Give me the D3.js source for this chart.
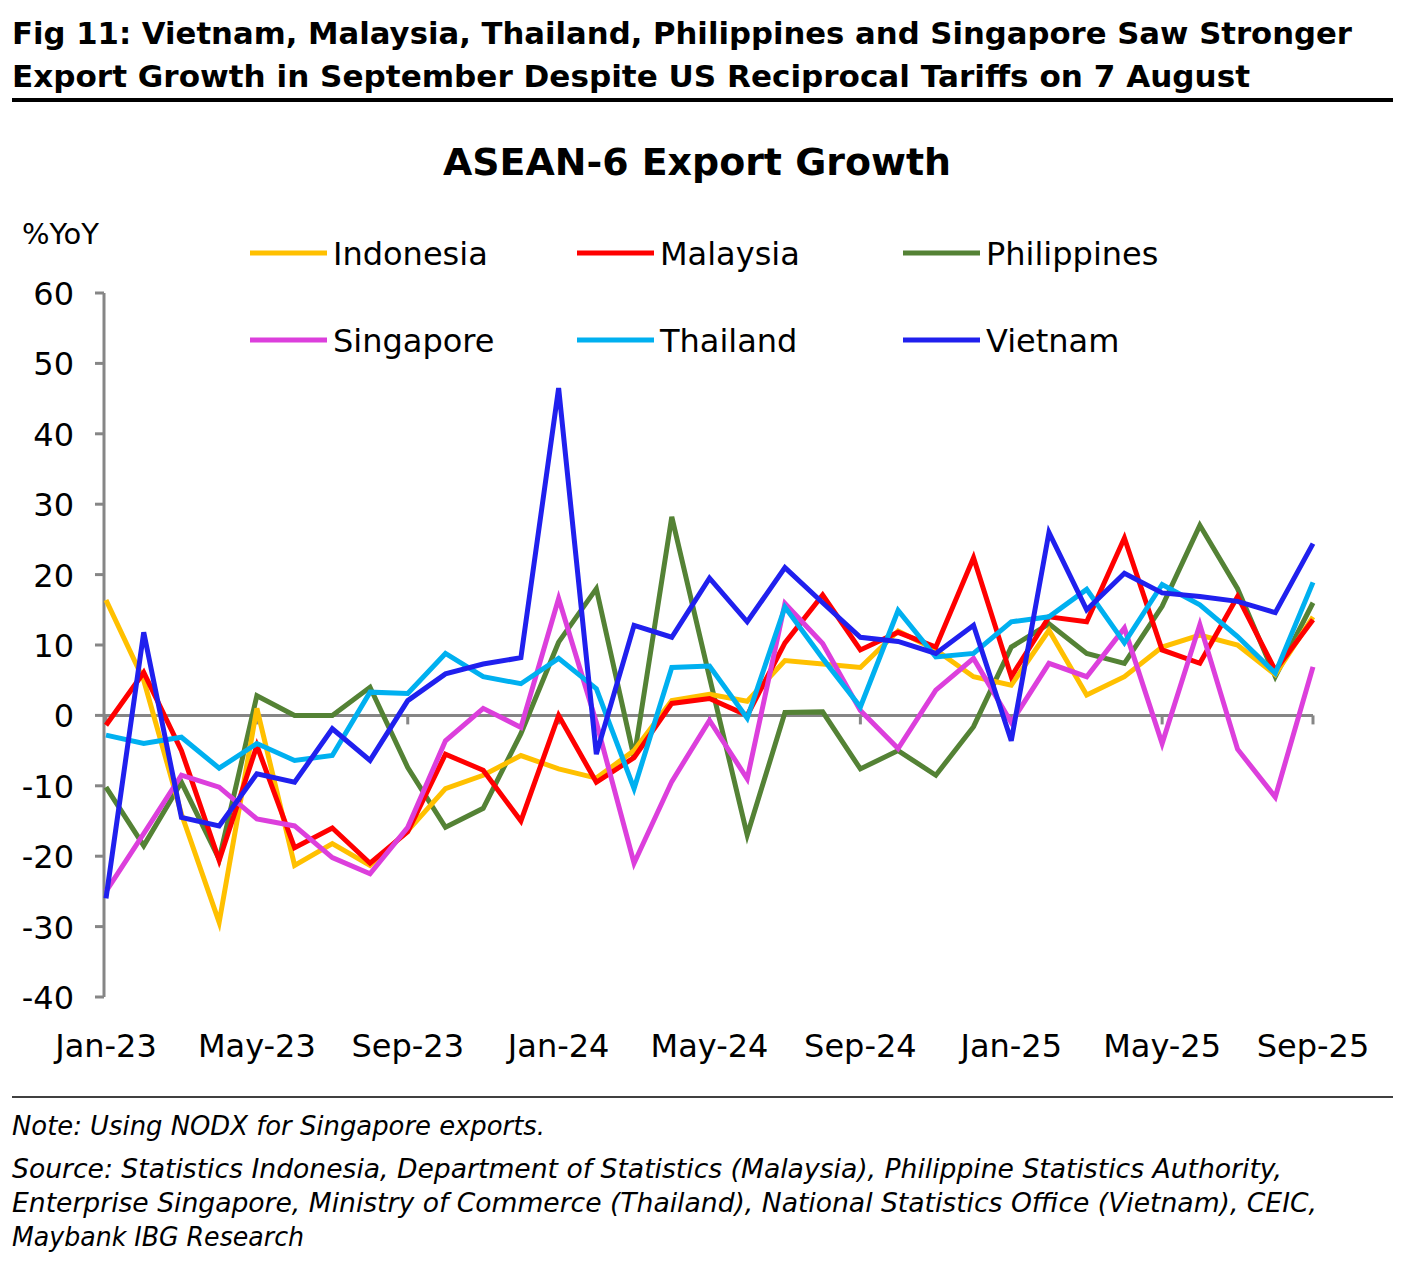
<!DOCTYPE html>
<html>
<head>
<meta charset="utf-8">
<script src="https://cdn.jsdelivr.net/npm/d3@7"></script>
<style>
	body { margin: 0; background: #fff; }
	text { font-family: "DejaVu Sans", sans-serif; fill: #000; }
</style>
</head>
<body>
<svg id="chart" width="1401" height="1264"></svg>
<script>
const MONTHS = d3.range(33); // Jan-23 .. Sep-25
const TICK_LABELS = ['Jan-23', 'May-23', 'Sep-23', 'Jan-24', 'May-24', 'Sep-24', 'Jan-25', 'May-25', 'Sep-25'];
const Y_TICKS = [60, 50, 40, 30, 20, 10, 0, -10, -20, -30, -40];

const INDONESIA = [16.4, 5, -14, -29.4, 1, -21.3, -18.2, -21.3, -16.4, -10.4, -8.5, -5.7,
	-7.6, -8.9, -5, 2.1, 3, 2, 7.8, 7.3, 6.8, 12, 9.3, 5.5, 4.3, 12.1, 2.9, 5.5, 9.7, 11.4, 10, 5.8, 14];
const MALAYSIA = [-1.4, 6.1, -5, -20.6, -4.3, -18.8, -16, -21, -16.5, -5.5, -7.8, -15,
	0, -9.5, -6, 1.7, 2.4, 0, 10.3, 17.1, 9.3, 11.8, 9.7, 22.4, 5.5, 14, 13.3, 25.2, 9.3, 7.4, 16.9, 6.4, 13.6];
const PHILIPPINES = [-10.2, -18.5, -9.5, -20.4, 2.8, 0, 0, 4, -7.4, -15.9, -13.2, -2.6,
	10.4, 18, -6, 28.2, 5.4, -17, 0.4, 0.5, -7.6, -5, -8.5, -1.6, 9.7, 13, 8.8, 7.4, 15.5, 27, 18, 5.5, 16];
const SINGAPORE = [-25, -16.8, -8.5, -10.2, -14.7, -15.7, -20.2, -22.5, -15.9, -3.6, 1, -1.7,
	16.6, -1, -21, -9.4, -0.7, -9, 15.9, 10.2, 0.7, -4.7, 3.6, 8.1, -1, 7.4, 5.5, 12.4, -4, 12.9, -4.8, -11.6, 6.9];
const THAILAND = [-2.8, -4, -3.1, -7.5, -4, -6.4, -5.7, 3.3, 3.1, 8.8, 5.5, 4.5,
	8.1, 3.8, -10.4, 6.8, 7, -0.4, 15.4, 8.1, 1.2, 14.9, 8.3, 8.8, 13.3, 14, 17.9, 10.3, 18.6, 15.7, 11.2, 6, 18.9];
const VIETNAM = [-26, 11.8, -14.5, -15.7, -8.3, -9.5, -1.9, -6.4, 2.1, 5.9, 7.3, 8.2,
	46.5, -5.5, 12.8, 11.1, 19.5, 13.3, 21, 16, 11.1, 10.5, 8.8, 12.8, -3.6, 26, 15, 20.2, 17.4, 16.9, 16.2, 14.6, 24.4];

const SERIES = [
	{ name: 'Indonesia', color: '#ffc000', values: INDONESIA },
	{ name: 'Malaysia', color: '#ff0000', values: MALAYSIA },
	{ name: 'Philippines', color: '#548235', values: PHILIPPINES },
	{ name: 'Singapore', color: '#dc3fdc', values: SINGAPORE },
	{ name: 'Thailand', color: '#00b0f0', values: THAILAND },
	{ name: 'Vietnam', color: '#2020ee', values: VIETNAM }
];
// draw order in the picture: vietnam on top
const DRAW_ORDER = ['Philippines', 'Indonesia', 'Malaysia', 'Singapore', 'Thailand', 'Vietnam'];

const svg = d3.select('#chart');
const x = d3.scaleLinear().domain([0, 32]).range([106, 1313]);
const y = d3.scaleLinear().domain([-40, 60]).range([997, 293]);

// header
svg.append('text').attr('x', 12).attr('y', 44).attr('font-size', 31).attr('font-weight', 'bold')
	.attr('textLength', 1340).attr('lengthAdjust', 'spacingAndGlyphs')
	.text('Fig 11: Vietnam, Malaysia, Thailand, Philippines and Singapore Saw Stronger');
svg.append('text').attr('x', 12).attr('y', 87).attr('font-size', 31).attr('font-weight', 'bold')
	.attr('textLength', 1238).attr('lengthAdjust', 'spacingAndGlyphs')
	.text('Export Growth in September Despite US Reciprocal Tariffs on 7 August');
svg.append('rect').attr('x', 12).attr('y', 98).attr('width', 1381).attr('height', 4).attr('fill', '#000');

svg.append('text').attr('x', 697).attr('y', 175).attr('text-anchor', 'middle')
	.attr('font-size', 38).attr('font-weight', 'bold')
	.attr('textLength', 508).attr('lengthAdjust', 'spacingAndGlyphs')
	.text('ASEAN-6 Export Growth');
svg.append('text').attr('x', 22).attr('y', 244).attr('font-size', 29).text('%YoY');

// legend
const legX = [250, 577, 903];
const legY = [253, 340];
SERIES.forEach((s, i) => {
	const lx = legX[i % 3], ly = legY[Math.floor(i / 3)];
	svg.append('line').attr('x1', lx).attr('x2', lx + 77).attr('y1', ly).attr('y2', ly)
		.attr('stroke', s.color).attr('stroke-width', 5);
	svg.append('text').attr('x', lx + 83).attr('y', ly + 12).attr('font-size', 32).text(s.name);
});

// axes
const axisColor = '#868686';
svg.append('line').attr('x1', 104).attr('x2', 104).attr('y1', 293).attr('y2', 997)
	.attr('stroke', axisColor).attr('stroke-width', 3);
svg.append('g').selectAll('line').data(Y_TICKS).enter().append('line')
	.attr('x1', 95).attr('x2', 104).attr('y1', d => y(d)).attr('y2', d => y(d))
	.attr('stroke', axisColor).attr('stroke-width', 3);
svg.append('g').selectAll('text').data(Y_TICKS).enter().append('text')
	.attr('x', 74).attr('y', d => y(d) + 12).attr('text-anchor', 'end').attr('font-size', 32)
	.text(d => d);
svg.append('line').attr('x1', 104).attr('x2', x(32)).attr('y1', y(0)).attr('y2', y(0))
	.attr('stroke', axisColor).attr('stroke-width', 3);
svg.append('g').selectAll('line').data(d3.range(0, 33, 4)).enter().append('line')
	.attr('x1', d => x(d)).attr('x2', d => x(d)).attr('y1', y(0)).attr('y2', y(0) + 9)
	.attr('stroke', axisColor).attr('stroke-width', 3);
svg.append('g').selectAll('text').data(TICK_LABELS).enter().append('text')
	.attr('x', (d, i) => x(i * 4)).attr('y', 1057).attr('text-anchor', 'middle').attr('font-size', 32)
	.text(d => d);

// lines
const line = d3.line().x((d, i) => x(MONTHS[i])).y(d => y(d));
DRAW_ORDER.forEach(n => {
	const s = SERIES.find(d => d.name === n);
	svg.append('path').datum(s.values).attr('d', line).attr('fill', 'none')
		.attr('stroke', s.color).attr('stroke-width', 5).attr('stroke-linejoin', 'miter');
});

// footer
svg.append('line').attr('x1', 12).attr('x2', 1393).attr('y1', 1097).attr('y2', 1097)
	.attr('stroke', '#000').attr('stroke-width', 1.5);
const NOTES = [
	['Note: Using NODX for Singapore exports.', 1135, 533],
	['Source: Statistics Indonesia, Department of Statistics (Malaysia), Philippine Statistics Authority,', 1178, 1270],
	['Enterprise Singapore, Ministry of Commerce (Thailand), National Statistics Office (Vietnam), CEIC,', 1212, 1305],
	['Maybank IBG Research', 1246, 292]
];
NOTES.forEach(([t, yy, w]) => {
	svg.append('text').attr('x', 12).attr('y', yy).attr('font-size', 26).attr('font-style', 'italic')
		.attr('textLength', w).attr('lengthAdjust', 'spacingAndGlyphs').text(t);
});
</script>
</body>
</html>
